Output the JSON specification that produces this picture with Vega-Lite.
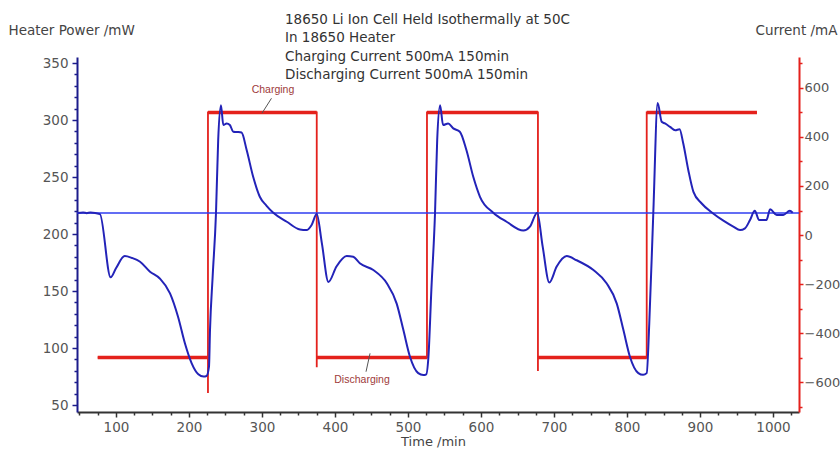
{
  "$schema": "https://vega.github.io/schema/vega-lite/v6.json",
  "width": 722,
  "height": 355,
  "autosize": {"type": "none"},
  "padding": {"left": 77, "top": 57, "right": 41, "bottom": 38},
  "background": "white",
  "config": {"view": {"stroke": null}, "font": "DejaVu Sans"},
  "title": {
    "text": ["18650 Li Ion Cell Held Isothermally at 50C", "In 18650 Heater", "Charging Current 500mA 150min", "Discharging Current 500mA 150min"],
    "anchor": "start",
    "frame": "group",
    "dx": 208,
    "dy": 59,
    "font": "DejaVu Sans",
    "fontSize": 13.5,
    "fontWeight": "normal",
    "color": "#333333",
    "lineHeight": 18.6,
    "baseline": "top",
    "offset": 0
  },
  "datasets": {
    "power": [
      {"time": 47, "power": 218.5}, {"time": 55, "power": 219}, {"time": 60, "power": 218.3}, {"time": 65, "power": 219},
      {"time": 78, "power": 217.5}, {"time": 92.7, "power": 162}, {"time": 100, "power": 170}, {"time": 112, "power": 180.7},
      {"time": 122, "power": 179}, {"time": 133, "power": 175.7}, {"time": 146.6, "power": 167}, {"time": 160, "power": 161},
      {"time": 174, "power": 148}, {"time": 185, "power": 127.5}, {"time": 194.5, "power": 104}, {"time": 203.7, "power": 86.6},
      {"time": 212.8, "power": 77}, {"time": 220, "power": 75}, {"time": 224, "power": 75.5}, {"time": 227.4, "power": 83.6},
      {"time": 228.8, "power": 116}, {"time": 232.4, "power": 162.6}, {"time": 237, "power": 218.4}, {"time": 240, "power": 282.5},
      {"time": 243.8, "power": 313}, {"time": 247, "power": 295.6}, {"time": 251.6, "power": 297}, {"time": 256, "power": 295.6},
      {"time": 260.7, "power": 289.8}, {"time": 266, "power": 289.5}, {"time": 272, "power": 289}, {"time": 279, "power": 273.7},
      {"time": 288, "power": 250}, {"time": 297, "power": 232.7}, {"time": 306, "power": 225}, {"time": 315.5, "power": 218.7},
      {"time": 334, "power": 210.8}, {"time": 352, "power": 204}, {"time": 361, "power": 203.5}, {"time": 368, "power": 208},
      {"time": 375, "power": 217.5}, {"time": 382, "power": 192}, {"time": 391, "power": 158}, {"time": 402, "power": 171.5},
      {"time": 416, "power": 180.7}, {"time": 425, "power": 180}, {"time": 434, "power": 174.3}, {"time": 452.5, "power": 168.4},
      {"time": 471, "power": 156.8}, {"time": 484.5, "power": 139}, {"time": 493.6, "power": 116}, {"time": 502.7, "power": 92.4},
      {"time": 514, "power": 78}, {"time": 521, "power": 76.3}, {"time": 525, "power": 77}, {"time": 528, "power": 92.4},
      {"time": 532, "power": 151}, {"time": 537, "power": 218}, {"time": 540, "power": 282.5}, {"time": 544, "power": 313},
      {"time": 548, "power": 295.6}, {"time": 555, "power": 297}, {"time": 562, "power": 292.7}, {"time": 571, "power": 289.8},
      {"time": 580, "power": 273.7}, {"time": 589.5, "power": 250}, {"time": 598.6, "power": 232.7}, {"time": 616.8, "power": 218.7},
      {"time": 635, "power": 210.8}, {"time": 658, "power": 203}, {"time": 667, "power": 206.5}, {"time": 677, "power": 218.7},
      {"time": 684.5, "power": 189}, {"time": 693.6, "power": 157.5}, {"time": 703.7, "power": 171.5}, {"time": 717.4, "power": 180.7},
      {"time": 731, "power": 177}, {"time": 754, "power": 168.4}, {"time": 772, "power": 156.8}, {"time": 786, "power": 139},
      {"time": 795, "power": 116}, {"time": 804, "power": 92.4}, {"time": 815.5, "power": 78}, {"time": 822, "power": 76.5},
      {"time": 827, "power": 78}, {"time": 830.5, "power": 121.5}, {"time": 836, "power": 218}, {"time": 842, "power": 315},
      {"time": 847.5, "power": 298.5}, {"time": 852, "power": 297}, {"time": 859, "power": 294}, {"time": 866, "power": 291},
      {"time": 872, "power": 292}, {"time": 877, "power": 279.6}, {"time": 884, "power": 256}, {"time": 891, "power": 237},
      {"time": 902, "power": 227}, {"time": 918, "power": 218}, {"time": 932, "power": 211.7}, {"time": 945.6, "power": 206.5},
      {"time": 954.8, "power": 203.5}, {"time": 961.6, "power": 205}, {"time": 968.5, "power": 212.3}, {"time": 975, "power": 220.4},
      {"time": 981, "power": 212.3}, {"time": 991, "power": 212.3}, {"time": 996, "power": 221.7}, {"time": 1005, "power": 216.7},
      {"time": 1014, "power": 216.7}, {"time": 1023, "power": 220.4}, {"time": 1027, "power": 218.7}
    ],
    "baseline": [{"time": 46.6, "time2": 1035.6, "power": 218.4}],
    "current": [
      {"seq": 1, "time": 75, "current": -500}, {"seq": 2, "time": 226, "current": -500}, {"seq": 3, "time": 226, "current": -645},
      {"seq": 4, "time": 226, "current": 500}, {"seq": 5, "time": 375, "current": 500}, {"seq": 6, "time": 375, "current": -540},
      {"seq": 7, "time": 375, "current": -500}, {"seq": 8, "time": 526, "current": -500}, {"seq": 9, "time": 526, "current": 500},
      {"seq": 10, "time": 678, "current": 500}, {"seq": 11, "time": 678, "current": -555}, {"seq": 12, "time": 678, "current": -500},
      {"seq": 13, "time": 827, "current": -500}, {"seq": 14, "time": 827, "current": 500}, {"seq": 15, "time": 978, "current": 500}
    ],
    "plateaus": [
      {"time": 75, "time2": 226, "current": -500}, {"time": 226, "time2": 375, "current": 500},
      {"time": 375, "time2": 526, "current": -500}, {"time": 526, "time2": 678, "current": 500},
      {"time": 678, "time2": 827, "current": -500}, {"time": 827, "time2": 978, "current": 500}
    ],
    "pointers": [
      {"time": 313, "time2": 300, "current": 558, "current2": 497},
      {"time": 442.5, "time2": 448, "current": -558, "current2": -483}
    ],
    "notes": [
      {"time": 315, "current": 592, "label": "Charging"},
      {"time": 437, "current": -592, "label": "Discharging"}
    ]
  },
  "encoding": {
    "x": {
      "field": "time",
      "type": "quantitative",
      "scale": {"domain": [46.6, 1035.6], "nice": false, "zero": false},
      "axis": {
        "values": [50, 75, 100, 125, 150, 175, 200, 225, 250, 275, 300, 325, 350, 375, 400, 425, 450, 475, 500, 525, 550, 575, 600, 625, 650, 675, 700, 725, 750, 775, 800, 825, 850, 875, 900, 925, 950, 975, 1000, 1025],
        "labelExpr": "datum.value % 100 === 0 ? datum.label : ''",
        "format": "d",
        "grid": false,
        "tickSize": {"condition": {"test": "datum.value % 100 === 0", "value": 5}, "value": 3},
        "tickColor": "#333333",
        "tickWidth": 1.5,
        "domainColor": "#333333",
        "domainWidth": 2,
        "labelColor": "#555555",
        "labelFont": "DejaVu Sans",
        "labelFontSize": 13.5,
        "labelPadding": 3,
        "labelOverlap": false,
        "labelFlush": false,
        "labelBound": false,
        "title": "Time /min",
        "titleFont": "DejaVu Sans",
        "titleFontSize": 13,
        "titleFontWeight": "normal",
        "titleColor": "#444444",
        "titleX": 356,
        "titleY": 29,
        "titleAlign": "center",
        "titleBaseline": "middle",
        "titleAngle": 0
      }
    }
  },
  "layer": [
    {
      "encoding": {
        "y": {
          "field": "current",
          "type": "quantitative",
          "scale": {"domain": [-722.4, 726.5], "nice": false, "zero": false},
          "axis": {
            "orient": "right",
            "values": [-700, -600, -500, -400, -300, -200, -100, 0, 100, 200, 300, 400, 500, 600, 700],
            "labelExpr": "datum.value % 200 === 0 ? datum.label : ''",
            "format": "d",
            "grid": false,
            "tickSize": {"condition": {"test": "datum.value % 200 === 0", "value": 4}, "value": 3},
            "tickColor": "#e4211c",
            "tickWidth": 1.5,
            "domainColor": "#e4211c",
            "domainWidth": 2,
            "labelColor": "#555555",
            "labelFont": "DejaVu Sans",
            "labelFontSize": 13,
            "labelPadding": 1,
            "labelOverlap": false,
            "labelFlush": false,
            "labelBound": false,
            "title": "Current /mA",
            "titleFont": "DejaVu Sans",
            "titleFontSize": 13.5,
            "titleFontWeight": "normal",
            "titleColor": "#444444",
            "titleAngle": 0,
            "titleX": -44,
            "titleY": -27,
            "titleAlign": "left",
            "titleBaseline": "middle"
          }
        }
      },
      "layer": [
        {
          "data": {"name": "current"},
          "mark": {"type": "line", "color": "#e4211c", "strokeWidth": 1.8},
          "encoding": {"order": {"field": "seq", "type": "quantitative"}}
        },
        {
          "data": {"name": "plateaus"},
          "mark": {"type": "rule", "color": "#e4211c", "strokeWidth": 3.5},
          "encoding": {"x2": {"field": "time2"}}
        },
        {
          "data": {"name": "pointers"},
          "mark": {"type": "rule", "color": "#555555", "strokeWidth": 1},
          "encoding": {"x2": {"field": "time2"}, "y2": {"field": "current2"}}
        },
        {
          "data": {"name": "notes"},
          "mark": {"type": "text", "color": "#9e3a3a", "font": "Liberation Sans", "fontSize": 10.5, "baseline": "middle", "align": "center"},
          "encoding": {"text": {"field": "label"}}
        }
      ]
    },
    {
      "encoding": {
        "y": {
          "field": "power",
          "type": "quantitative",
          "scale": {"domain": [43.9, 355.3], "nice": false, "zero": false},
          "axis": {
            "orient": "left",
            "values": [50, 60, 70, 80, 90, 100, 110, 120, 130, 140, 150, 160, 170, 180, 190, 200, 210, 220, 230, 240, 250, 260, 270, 280, 290, 300, 310, 320, 330, 340, 350],
            "labelExpr": "datum.value % 50 === 0 ? datum.label : ''",
            "format": "d",
            "grid": false,
            "tickSize": {"condition": {"test": "datum.value % 50 === 0", "value": 5}, "value": 3},
            "tickColor": "#1c1c8c",
            "tickWidth": 1.5,
            "domainColor": "#1c1c8c",
            "domainWidth": 2,
            "labelColor": "#555555",
            "labelFont": "DejaVu Sans",
            "labelFontSize": 13.5,
            "labelPadding": 4,
            "labelOverlap": false,
            "labelFlush": false,
            "labelBound": false,
            "title": "Heater Power /mW",
            "titleFont": "DejaVu Sans",
            "titleFontSize": 13.5,
            "titleFontWeight": "normal",
            "titleColor": "#444444",
            "titleAngle": 0,
            "titleX": -69,
            "titleY": -27,
            "titleAlign": "left",
            "titleBaseline": "middle"
          }
        }
      },
      "layer": [
        {
          "data": {"name": "baseline"},
          "mark": {"type": "rule", "color": "#2f3cf0", "strokeWidth": 1.5},
          "encoding": {"x2": {"field": "time2"}}
        },
        {
          "data": {"name": "power"},
          "mark": {"type": "line", "color": "#2323b8", "strokeWidth": 2, "interpolate": "monotone"},
          "encoding": {}
        }
      ]
    }
  ],
  "resolve": {"scale": {"y": "independent"}}
}
